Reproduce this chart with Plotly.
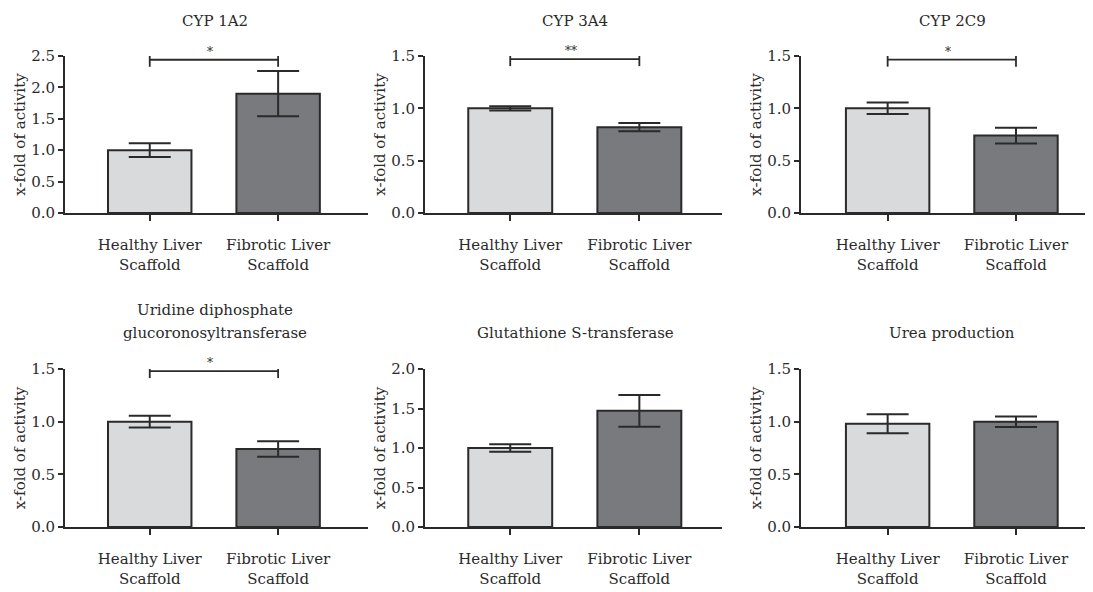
import plotly.graph_objects as go

categories = ["Healthy Liver<br>Scaffold", "Fibrotic Liver<br>Scaffold"]
titles = ["CYP 1A2", "CYP 3A4", "CYP 2C9",
          "Uridine diphosphate<br>glucoronosyltransferase",
          "Glutathione S-transferase", "Urea production"]
healthy_mean = [1.00, 1.00, 1.00, 1.00, 1.00, 0.98]
healthy_err = [0.11, 0.02, 0.055, 0.055, 0.047, 0.09]
fibrotic_mean = [1.90, 0.82, 0.74, 0.74, 1.47, 1.00]
fibrotic_err = [0.36, 0.04, 0.075, 0.073, 0.20, 0.05]
y_max = [2.5, 1.5, 1.5, 1.5, 2.0, 1.5]
significance = ["*", "**", "*", "*", "", ""]
bracket_y = [2.44, 1.47, 1.465, 1.48, None, None]

# the html page body has an 8px margin; work in page pixels and subtract it
OFF = 8
W, H = 1093 - OFF, 592 - OFF
FONT = "DejaVu Serif"
FS = 15
INK = "#2a2a2a"
bar_colors = ["#d9dadc", "#797a7e"]

# panel pixel boxes in page pixels
col_x = [(65, 368), (425, 722), (801, 1093)]
row_y = [(56, 213), (369, 527)]
x_ranges = [(-0.66, 1.70), (-0.66, 1.64), (-0.675, 1.60)]
title_x = [215, 575, 952]
title_y = [[21], [310, 333]]


def px(v):
    return (v - OFF) / W


def py(v):
    return 1 - (v - OFF) / H


fig = go.Figure()
layout = dict(
    width=W, height=H,
    margin=dict(l=0, r=0, t=0, b=0, pad=0, autoexpand=False),
    paper_bgcolor="white", plot_bgcolor="white", showlegend=False,
    font=dict(family=FONT, size=FS, color=INK),
)
annotations = []
shapes = []

for i in range(6):
    r, c = divmod(i, 3)
    n = "" if i == 0 else str(i + 1)
    xl, xr = col_x[c]
    yt, yb = row_y[r]
    fig.add_trace(go.Bar(
        x=categories, y=[healthy_mean[i], fibrotic_mean[i]],
        width=0.65,
        marker=dict(color=bar_colors, line=dict(color=INK, width=2)),
        error_y=dict(type="data", array=[healthy_err[i], fibrotic_err[i]],
                     color=INK, thickness=2, width=21),
        xaxis="x" + n, yaxis="y" + n, cliponaxis=False,
    ))
    layout["xaxis" + n] = dict(
        domain=[max(px(xl), 0), min(px(xr), 1)], anchor="y" + n,
        automargin=False,
        range=list(x_ranges[c]), showgrid=False, zeroline=False,
        showline=True, linecolor=INK, linewidth=2,
        ticks="outside", ticklen=6, tickwidth=2, tickcolor=INK,
        ticklabelstandoff=11, fixedrange=True,
        tickfont=dict(family=FONT, size=FS, color=INK),
    )
    layout["yaxis" + n] = dict(
        domain=[py(yb), py(yt)], anchor="x" + n, automargin=False,
        range=[0, y_max[i]], dtick=0.5, tickformat=".1f",
        showgrid=False, zeroline=False,
        showline=True, linecolor=INK, linewidth=2,
        ticks="outside", ticklen=5, tickwidth=2, tickcolor=INK,
        tickfont=dict(family=FONT, size=FS, color=INK),
        title=dict(text="x-fold of activity", standoff=2,
                   font=dict(family=FONT, size=FS, color=INK)),
    )
    # panel title (one annotation per line)
    lines = titles[i].split("<br>")
    ys = title_y[r] if len(lines) == 2 else [title_y[r][-1]]
    for line, ty in zip(lines, ys):
        annotations.append(dict(
            text=line, x=px(title_x[c]), y=py(ty),
            xref="paper", yref="paper", xanchor="center", yanchor="middle",
            showarrow=False, font=dict(family=FONT, size=FS, color=INK),
        ))
    # significance bracket
    if significance[i]:
        by = bracket_y[i]
        shapes.append(dict(type="line", xref="x" + n, yref="y" + n,
                           x0=0, x1=1, y0=by, y1=by,
                           line=dict(color=INK, width=1.8)))
        for xe in (0, 1):
            shapes.append(dict(type="line", xref="x" + n, yref="y" + n,
                               ysizemode="pixel", yanchor=by,
                               x0=xe, x1=xe, y0=-7, y1=7,
                               line=dict(color=INK, width=1.8)))
        annotations.append(dict(
            text=significance[i], x=0.5, y=by, xref="x" + n, yref="y" + n,
            xanchor="center", yanchor="bottom", yshift=-1, xshift=-4,
            showarrow=False, font=dict(family=FONT, size=12, color=INK),
        ))

layout["annotations"] = annotations
layout["shapes"] = shapes
fig.update_layout(**layout)
fig.write_html("out.html")
